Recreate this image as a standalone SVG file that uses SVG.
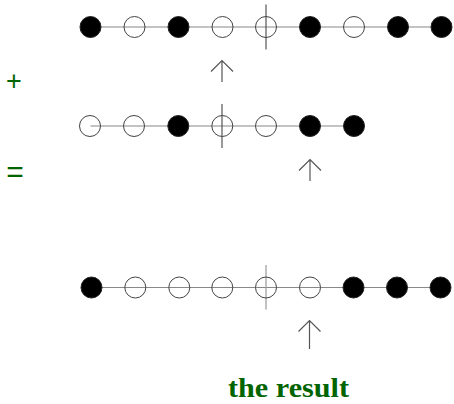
<svg xmlns="http://www.w3.org/2000/svg" width="454" height="404" viewBox="0 0 454 404">
<style>
.f{fill:#000;stroke:#222;stroke-width:1}
.o{fill:none;stroke:#444;stroke-width:1}
.ln{stroke:#888;stroke-width:1.2;fill:none}
.v{stroke:#555;stroke-width:1.2}
.ar{stroke:#555;stroke-width:1.2;fill:none}
.g{fill:#006400;font-family:'Liberation Sans',sans-serif}
</style>
<rect width="454" height="404" fill="#fff"/>
<g id="connectors">
<line class="ln" x1="90.5" y1="27" x2="442" y2="27"/>
<line class="ln" x1="90.5" y1="126" x2="354" y2="126"/>
<line class="ln" x1="91" y1="287.5" x2="441" y2="287.5"/>
<line class="v" x1="266" y1="4.5" x2="266" y2="49.5"/>
<line class="v" x1="222" y1="104" x2="222" y2="148"/>
<line class="v" x1="266" y1="265" x2="266" y2="309.5" style="stroke:#999"/>
<path class="ar" d="M222 82V60.5M211 71.5L222 60.5L233 71.5"/>
<path class="ar" d="M310 181V159.5M299 170.5L310 159.5L321 170.5"/>
<path class="ar" d="M309.5 349V320.5M298.5 331.5L309.5 320.5L320.5 331.5"/>
</g>
<g id="row1">
<g id="r1n1"><circle class="f" cx="90.5" cy="27" r="10.5"/></g>
<g id="r1n2"><circle class="o" cx="134.5" cy="27" r="10.5"/></g>
<g id="r1n3"><circle class="f" cx="178.5" cy="27" r="10.5"/></g>
<g id="r1n4"><circle class="o" cx="222.5" cy="27" r="10.5"/></g>
<g id="r1n5"><circle class="o" cx="266" cy="27" r="10.5"/></g>
<g id="r1n6"><circle class="f" cx="310" cy="27" r="10.5"/></g>
<g id="r1n7"><circle class="o" cx="354" cy="27" r="10.5"/></g>
<g id="r1n8"><circle class="f" cx="398" cy="27" r="10.5"/></g>
<g id="r1n9"><circle class="f" cx="441.5" cy="27" r="10.5"/></g>
</g>
<g id="row2">
<g id="r2n1"><circle class="o" cx="90" cy="126" r="10.5"/></g>
<g id="r2n2"><circle class="o" cx="134" cy="126" r="10.5"/></g>
<g id="r2n3"><circle class="f" cx="178.3" cy="126" r="10.5"/></g>
<g id="r2n4"><circle class="o" cx="222.3" cy="126" r="10.5"/></g>
<g id="r2n5"><circle class="o" cx="266" cy="126" r="10.5"/></g>
<g id="r2n6"><circle class="f" cx="310" cy="126" r="10.5"/></g>
<g id="r2n7"><circle class="f" cx="354" cy="126" r="10.5"/></g>
</g>
<g id="row3">
<g id="r3n1"><circle class="f" cx="91.5" cy="287.5" r="10.5"/></g>
<g id="r3n2"><circle class="o" cx="135.3" cy="287.5" r="10.5"/></g>
<g id="r3n3"><circle class="o" cx="179.3" cy="287.5" r="10.5"/></g>
<g id="r3n4"><circle class="o" cx="222.3" cy="287.5" r="10.5"/></g>
<g id="r3n5"><circle class="o" cx="266" cy="287.5" r="10.5"/></g>
<g id="r3n6"><circle class="o" cx="310" cy="287.5" r="10.5"/></g>
<g id="r3n7"><circle class="f" cx="353.5" cy="287.5" r="10.5"/></g>
<g id="r3n8"><circle class="f" cx="397" cy="287.5" r="10.5"/></g>
<g id="r3n9"><circle class="f" cx="440.5" cy="287.5" r="10.5"/></g>
</g>
<g id="labels">
<text class="g" x="14" y="90" font-size="27" text-anchor="middle">+</text>
<text class="g" x="15" y="182" font-size="30" text-anchor="middle">=</text>
<text x="228" y="397" font-size="28" font-weight="bold" fill="#006400" font-family="'Liberation Serif',serif" textLength="121" lengthAdjust="spacingAndGlyphs">the result</text>
</g>
</svg>
